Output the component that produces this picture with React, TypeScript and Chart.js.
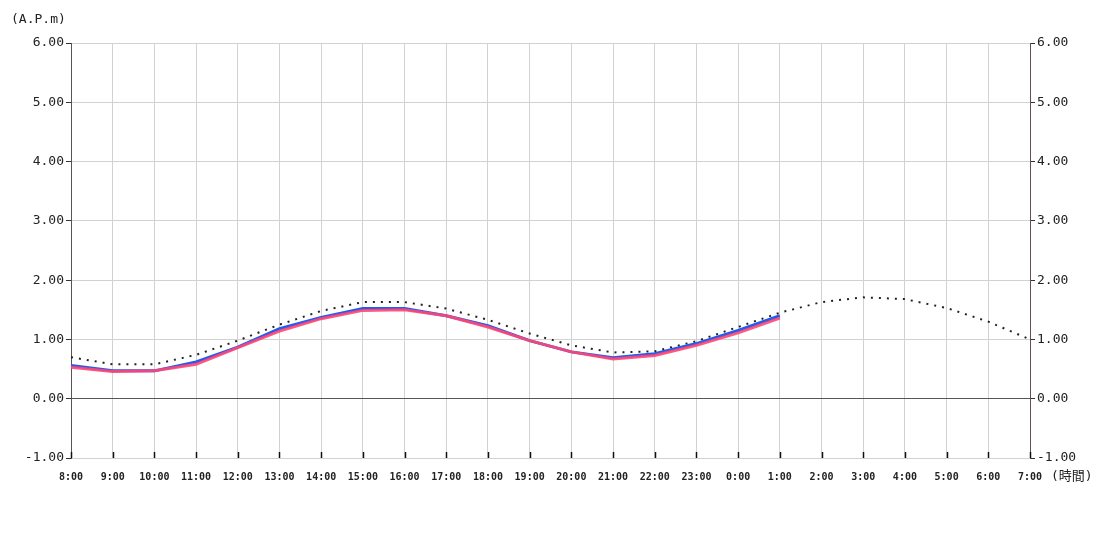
import React, { useEffect, useRef } from "react";
import { Chart, registerables } from "chart.js";

Chart.register(...registerables);

const hours: string[] = [
  "8:00", "9:00", "10:00", "11:00", "12:00", "13:00", "14:00", "15:00",
  "16:00", "17:00", "18:00", "19:00", "20:00", "21:00", "22:00", "23:00",
  "0:00", "1:00", "2:00", "3:00", "4:00", "5:00", "6:00", "7:00",
];

const actualBlue: (number | null)[] = [
  0.56, 0.47, 0.47, 0.62, 0.87, 1.18, 1.37, 1.52, 1.52, 1.40, 1.23, 0.98,
  0.79, 0.69, 0.76, 0.93, 1.15, 1.40,
];

const actualRed: (number | null)[] = [
  0.53, 0.46, 0.47, 0.58, 0.86, 1.14, 1.35, 1.49, 1.50, 1.40, 1.21, 0.98,
  0.79, 0.67, 0.73, 0.90, 1.11, 1.36,
];

const forecast: number[] = [
  0.70, 0.58, 0.58, 0.74, 0.98, 1.25, 1.48, 1.63, 1.63, 1.52, 1.33, 1.10,
  0.90, 0.78, 0.80, 0.97, 1.21, 1.45, 1.63, 1.71, 1.68, 1.53, 1.30, 1.00,
];

const yMin = -1;
const yMax = 6;
const yUnitLabel = "(A.P.m)";
const xUnitLabel = "(時間)";

export default function App() {
  const ref = useRef<HTMLCanvasElement | null>(null);

  useEffect(() => {
    document.body.style.margin = "0";
    const canvas = ref.current;
    if (!canvas) return;

    const extras = {
      id: "extras",
      afterDatasetsDraw(chart: any) {
        const ctx = chart.ctx;
        const x = chart.scales.x;
        const area = chart.chartArea;
        ctx.save();
        ctx.strokeStyle = "#111";
        ctx.lineWidth = 1.5;
        for (let i = 0; i < hours.length; i++) {
          const px = Math.round(x.getPixelForTick(i)) + 0.5;
          ctx.beginPath();
          ctx.moveTo(px, area.bottom - 6);
          ctx.lineTo(px, area.bottom);
          ctx.stroke();
        }
        ctx.restore();
      },
      afterDraw(chart: any) {
        const ctx = chart.ctx;
        ctx.save();
        ctx.fillStyle = "#222";
        ctx.font = "13px 'DejaVu Sans Mono', monospace";
        ctx.textBaseline = "middle";
        ctx.textAlign = "left";
        ctx.fillText(yUnitLabel, 11, 20);
        ctx.font = "13px 'DejaVu Sans Mono', 'Noto Sans CJK JP', monospace";
        ctx.fillText(xUnitLabel, 1051, 477);
        ctx.restore();
      },
    };

    const yTicks = {
      color: "#222",
      font: { family: "'DejaVu Sans Mono', monospace", size: 13 },
      padding: 2,
      stepSize: 1,
      callback: (v: any) => Number(v).toFixed(2),
    };

    const chart = new Chart(canvas, {
      type: "line",
      data: {
        labels: hours,
        datasets: [
          {
            label: "forecast",
            data: forecast,
            borderColor: "#222",
            borderWidth: 2,
            borderDash: [2, 6],
            pointRadius: 0,
            tension: 0,
            fill: false,
            order: 3,
          },
          {
            label: "blue",
            data: actualBlue,
            borderColor: "#1f5cf0",
            borderWidth: 3,
            pointRadius: 0,
            tension: 0,
            fill: false,
            order: 2,
          },
          {
            label: "red",
            data: actualRed,
            borderColor: "rgba(255,70,115,0.9)",
            borderWidth: 3,
            pointRadius: 0,
            tension: 0,
            fill: false,
            order: 1,
          },
        ],
      },
      options: {
        animation: false,
        responsive: false,
        maintainAspectRatio: false,
        layout: { padding: { top: 43, left: 0, right: 0, bottom: 0 } },
        plugins: {
          legend: { display: false },
          title: { display: false },
          tooltip: { enabled: false },
        },
        scales: {
          x: {
            type: "category",
            offset: false,
            grid: { color: "#d2d2d2", drawTicks: false, lineWidth: 1 },
            border: { display: false },
            ticks: {
              color: "#222",
              font: { family: "'DejaVu Sans Mono', monospace", size: 10, weight: "bold" },
              maxRotation: 0,
              minRotation: 0,
              autoSkip: false,
              padding: 13,
            },
            afterFit: (s: any) => {
              s.height = 92;
            },
          },
          y: {
            position: "left",
            min: yMin,
            max: yMax,
            grid: {
              color: (c: any) => (c.tick && c.tick.value === 0 ? "#555" : "#d2d2d2"),
              tickColor: "#333",
              tickLength: 5,
            },
            border: { color: "#555", width: 1 },
            ticks: yTicks,
            afterFit: (s: any) => {
              s.width = 71;
            },
          },
          y2: {
            position: "right",
            min: yMin,
            max: yMax,
            grid: { drawOnChartArea: false, tickColor: "#333", tickLength: 5 },
            border: { color: "#5a5055", width: 1 },
            ticks: yTicks,
            afterFit: (s: any) => {
              s.width = 70;
            },
          },
        },
      },
      plugins: [extras],
    } as any);

    return () => chart.destroy();
  }, []);

  return (
    <div style={{ width: 1100, height: 550 }}>
      <canvas ref={ref} width={1100} height={550} style={{ display: "block" }} />
    </div>
  );
}
